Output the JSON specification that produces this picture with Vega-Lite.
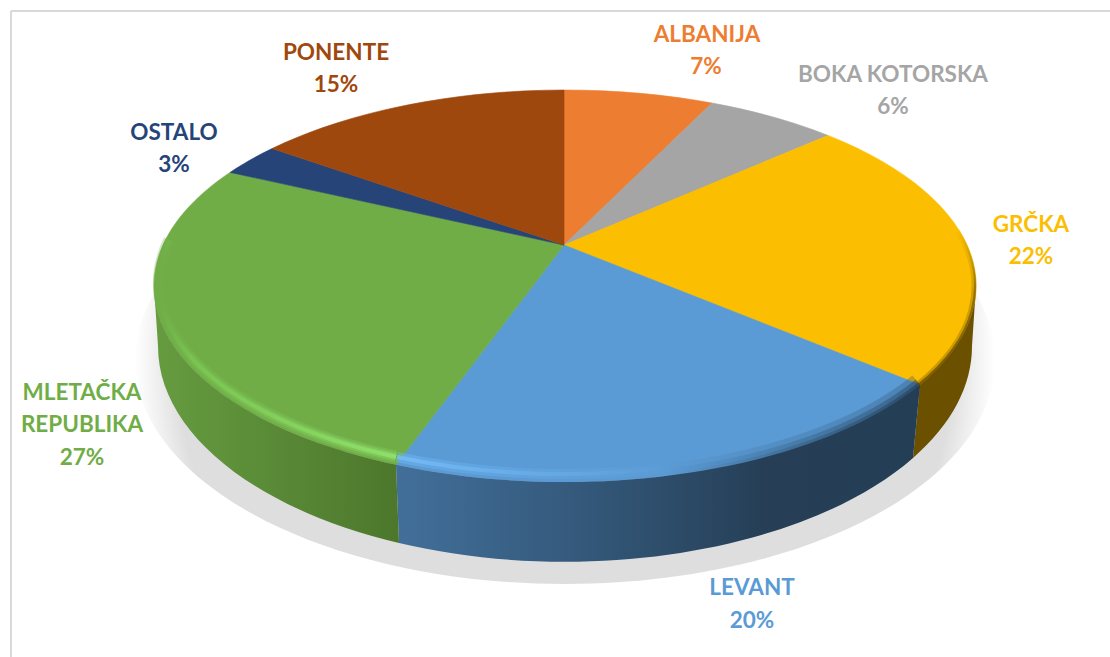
{"$schema":"https://vega.github.io/schema/vega-lite/v6.json","width":1099,"height":646,"autosize":"none","padding":{"left":11,"top":11,"right":0,"bottom":0},"background":"#ffffff","view":{"stroke":null},"data":{"values":[{"name":"ALBANIJA","pct":0.07},{"name":"BOKA KOTORSKA","pct":0.06},{"name":"GRČKA","pct":0.22},{"name":"LEVANT","pct":0.20},{"name":"MLETAČKA REPUBLIKA","pct":0.27},{"name":"OSTALO","pct":0.03},{"name":"PONENTE","pct":0.15}]},"encoding":{"x":{"value":553},"y":{"value":234},"size":{"value":4}},"layer":[
{"transform":[{"filter":"datum.name=='ALBANIJA'"}],"mark":{"type":"rule","color":"#d9d9d9"},"encoding":{"x":{"value":0},"x2":{"value":1099},"y":{"value":0},"size":{"value":2}}},
{"transform":[{"filter":"datum.name=='ALBANIJA'"}],"mark":{"type":"rule","color":"#d9d9d9"},"encoding":{"x":{"value":0},"y":{"value":0},"y2":{"value":646},"size":{"value":2}}},
{"transform":[{"filter":"datum.name=='LEVANT'"}],"mark":{"type":"point","filled":true,"opacity":1,"fill":{"gradient":"radial","x1":0.5,"y1":0.5,"r1":0,"x2":0.5,"y2":0.5,"r2":0.5,"stops":[{"offset":0,"color":"#dedede"},{"offset":0.9,"color":"#dedede"},{"offset":0.95,"color":"#efefef"},{"offset":1,"color":"#ffffff"}]}},"encoding":{"shape":{"value":"M-429,115 A430,224 0 0 1 431,115 A430,224 0 0 1 -429,115 Z"}}},
{"mark":{"type":"point","filled":true,"opacity":1,"strokeWidth":0.6},"encoding":{"shape":{"field":"name","type":"nominal","legend":null,"scale":{"domain":["ALBANIJA","BOKA KOTORSKA","GRČKA","LEVANT","MLETAČKA REPUBLIKA","OSTALO","PONENTE"],"range":["M0,0 L0,-155 A411,196 0 0 1 148,-142 Z","M0,0 L148,-142 A411,196 0 0 1 264,-109.6 Z","M0,0 L264,-109.6 A411,196 0 0 1 356,139.8 Z","M0,0 L356,139.8 A411,196 0 0 1 -168,219.7 Z","M0,0 L-168,219.7 A411,196 0 0 1 -334,-72.6 Z","M0,0 L-334,-72.6 A411,196 0 0 1 -292,-96.4 Z","M0,0 L-292,-96.4 A411,196 0 0 1 0,-155 Z"]}},"color":{"field":"name","type":"nominal","legend":null,"scale":{"domain":["ALBANIJA","BOKA KOTORSKA","GRČKA","LEVANT","MLETAČKA REPUBLIKA","OSTALO","PONENTE"],"range":["#ED7D31","#A5A5A5","#FBBE00","#5B9BD5","#70AD47","#264478","#9E480E"]}},"stroke":{"field":"name","type":"nominal","legend":null,"scale":{"domain":["ALBANIJA","BOKA KOTORSKA","GRČKA","LEVANT","MLETAČKA REPUBLIKA","OSTALO","PONENTE"],"range":["#ED7D31","#A5A5A5","#FBBE00","#5B9BD5","#70AD47","#264478","#9E480E"]}}}},
{"transform":[{"filter":"datum.name=='MLETAČKA REPUBLIKA'"}],"mark":{"type":"point","filled":false,"opacity":0.3,"strokeWidth":12,"stroke":{"gradient":"linear","x1":0,"y1":0,"x2":1,"y2":0,"stops":[{"offset":0,"color":"#70AD47"},{"offset":0.15,"color":"#78c050"},{"offset":1,"color":"#8ad866"}]}},"encoding":{"shape":{"value":"M-394.6,-5 A406,191 0 0 0 -168,211.7"}}},
{"transform":[{"filter":"datum.name=='MLETAČKA REPUBLIKA'"}],"mark":{"type":"point","filled":false,"opacity":0.5,"strokeWidth":8,"stroke":{"gradient":"linear","x1":0,"y1":0,"x2":1,"y2":0,"stops":[{"offset":0,"color":"#70AD47"},{"offset":0.15,"color":"#78c050"},{"offset":1,"color":"#8ad866"}]}},"encoding":{"shape":{"value":"M-394.6,-5 A406,191 0 0 0 -168,211.7"}}},
{"transform":[{"filter":"datum.name=='MLETAČKA REPUBLIKA'"}],"mark":{"type":"point","filled":false,"opacity":1,"strokeWidth":4,"stroke":{"gradient":"linear","x1":0,"y1":0,"x2":1,"y2":0,"stops":[{"offset":0,"color":"#70AD47"},{"offset":0.15,"color":"#7bc453"},{"offset":1,"color":"#8ee06a"}]}},"encoding":{"shape":{"value":"M-394.6,-5 A406,191 0 0 0 -168,211.7"}}},
{"transform":[{"filter":"datum.name=='LEVANT'"}],"mark":{"type":"point","filled":false,"opacity":0.4,"strokeWidth":10,"stroke":{"gradient":"linear","x1":0,"y1":0,"x2":1,"y2":0,"stops":[{"offset":0,"color":"#74bcf8"},{"offset":1,"color":"#5b9bd5"}]}},"encoding":{"shape":{"value":"M-167,212 A406,191 0 0 0 120,220.6"}}},
{"transform":[{"filter":"datum.name=='LEVANT'"}],"mark":{"type":"point","filled":false,"opacity":0.9,"strokeWidth":4,"stroke":{"gradient":"linear","x1":0,"y1":0,"x2":1,"y2":0,"stops":[{"offset":0,"color":"#74bcf8"},{"offset":1,"color":"#5b9bd5"}]}},"encoding":{"shape":{"value":"M-167,212 A406,191 0 0 0 120,220.6"}}},
{"transform":[{"filter":"datum.name=='LEVANT'"}],"mark":{"type":"point","filled":false,"opacity":0.3,"strokeWidth":24,"stroke":{"gradient":"linear","x1":0,"y1":0,"x2":1,"y2":0,"stops":[{"offset":0,"color":"#5b9bd5"},{"offset":0.5,"color":"#3f6d96"},{"offset":1,"color":"#2a4a66"}]}},"encoding":{"shape":{"value":"M100,231.2 A411,196 0 0 0 356,139.8"}}},
{"transform":[{"filter":"datum.name=='LEVANT'"}],"mark":{"type":"point","filled":false,"opacity":0.5,"strokeWidth":14,"stroke":{"gradient":"linear","x1":0,"y1":0,"x2":1,"y2":0,"stops":[{"offset":0,"color":"#5b9bd5"},{"offset":0.5,"color":"#3f6d96"},{"offset":1,"color":"#2a4a66"}]}},"encoding":{"shape":{"value":"M100,231.2 A411,196 0 0 0 356,139.8"}}},
{"transform":[{"filter":"datum.name=='LEVANT'"}],"mark":{"type":"point","filled":false,"opacity":0.9,"strokeWidth":6,"stroke":{"gradient":"linear","x1":0,"y1":0,"x2":1,"y2":0,"stops":[{"offset":0,"color":"#5b9bd5"},{"offset":0.5,"color":"#3f6d96"},{"offset":1,"color":"#2a4a66"}]}},"encoding":{"shape":{"value":"M100,231.2 A411,196 0 0 0 356,139.8"}}},
{"transform":[{"filter":"datum.name=='GRČKA'"}],"mark":{"type":"point","filled":false,"opacity":0.35,"strokeWidth":5,"stroke":{"gradient":"linear","x1":0,"y1":0,"x2":0,"y2":1,"stops":[{"offset":0,"color":"#FBBE00"},{"offset":0.4,"color":"#8a6a00"},{"offset":1,"color":"#6b5000"}]}},"encoding":{"shape":{"value":"M353,139.8 A409,194 0 0 0 393,-14.4"}}},
{"transform":[{"filter":"datum.name=='GRČKA'"}],"mark":{"type":"point","filled":false,"opacity":0.85,"strokeWidth":2,"stroke":{"gradient":"linear","x1":0,"y1":0,"x2":0,"y2":1,"stops":[{"offset":0,"color":"#FBBE00"},{"offset":0.4,"color":"#8a6a00"},{"offset":1,"color":"#6b5000"}]}},"encoding":{"shape":{"value":"M354,140 A410,195 0 0 0 394,-14.6"}}},
{"transform":[{"filter":"datum.name=='GRČKA'"}],"mark":{"type":"point","filled":true,"opacity":1,"fill":"#6b5000"},"encoding":{"shape":{"value":"M412,41 A411,196 0 0 1 356,139.8 L349,213 A407,215.5 0 0 0 408,101 Z"}}},
{"transform":[{"filter":"datum.name=='LEVANT'"}],"mark":{"type":"point","filled":true,"opacity":1,"fill":{"gradient":"linear","x1":0,"y1":0,"x2":1,"y2":0,"stops":[{"offset":0,"color":"#426f9a"},{"offset":0.35,"color":"#34597b"},{"offset":0.7,"color":"#263f57"},{"offset":1,"color":"#243e55"}]}},"encoding":{"shape":{"value":"M356,139.8 A411,196 0 0 1 -168,219.7 L-165,298 A407,215.5 0 0 0 349,213 Z"}}},
{"transform":[{"filter":"datum.name=='MLETAČKA REPUBLIKA'"}],"mark":{"type":"point","filled":true,"opacity":1,"fill":{"gradient":"linear","x1":0,"y1":0,"x2":1,"y2":0,"stops":[{"offset":0,"color":"#669c40"},{"offset":1,"color":"#4c772c"}]}},"encoding":{"shape":{"value":"M-168,219.7 A411,196 0 0 1 -410,41 L-406,101 A407,215.5 0 0 0 -165,298 Z"}}},
{"transform":[{"filter":"datum.name=='ALBANIJA'"}],"mark":{"type":"text","font":"Lato","fontWeight":"bold","baseline":"middle","align":"center"},"encoding":{"size":{"value":22.5},"x":{"value":696},"y":{"value":24},"text":{"field":"name"},"color":{"field":"name","type":"nominal","legend":null}}},
{"transform":[{"filter":"datum.name=='ALBANIJA'"}],"mark":{"type":"text","font":"Lato","fontWeight":"bold","baseline":"middle","align":"center"},"encoding":{"size":{"value":22.5},"x":{"value":695},"y":{"value":56},"text":{"field":"pct","format":".0%"},"color":{"field":"name","type":"nominal","legend":null}}},
{"transform":[{"filter":"datum.name=='BOKA KOTORSKA'"}],"mark":{"type":"text","font":"Lato","fontWeight":"bold","baseline":"middle","align":"center"},"encoding":{"size":{"value":22.5},"x":{"value":882},"y":{"value":64},"text":{"field":"name"},"color":{"field":"name","type":"nominal","legend":null}}},
{"transform":[{"filter":"datum.name=='BOKA KOTORSKA'"}],"mark":{"type":"text","font":"Lato","fontWeight":"bold","baseline":"middle","align":"center"},"encoding":{"size":{"value":22.5},"x":{"value":882},"y":{"value":96},"text":{"field":"pct","format":".0%"},"color":{"field":"name","type":"nominal","legend":null}}},
{"transform":[{"filter":"datum.name=='GRČKA'"}],"mark":{"type":"text","font":"Lato","fontWeight":"bold","baseline":"middle","align":"center"},"encoding":{"size":{"value":22.5},"x":{"value":1020},"y":{"value":214},"text":{"field":"name"},"color":{"field":"name","type":"nominal","legend":null}}},
{"transform":[{"filter":"datum.name=='GRČKA'"}],"mark":{"type":"text","font":"Lato","fontWeight":"bold","baseline":"middle","align":"center"},"encoding":{"size":{"value":22.5},"x":{"value":1020},"y":{"value":246},"text":{"field":"pct","format":".0%"},"color":{"field":"name","type":"nominal","legend":null}}},
{"transform":[{"filter":"datum.name=='LEVANT'"}],"mark":{"type":"text","font":"Lato","fontWeight":"bold","baseline":"middle","align":"center"},"encoding":{"size":{"value":22.5},"x":{"value":741},"y":{"value":577},"text":{"field":"name"},"color":{"field":"name","type":"nominal","legend":null}}},
{"transform":[{"filter":"datum.name=='LEVANT'"}],"mark":{"type":"text","font":"Lato","fontWeight":"bold","baseline":"middle","align":"center"},"encoding":{"size":{"value":22.5},"x":{"value":741},"y":{"value":610},"text":{"field":"pct","format":".0%"},"color":{"field":"name","type":"nominal","legend":null}}},
{"transform":[{"filter":"datum.name=='MLETAČKA REPUBLIKA'"}],"mark":{"type":"text","font":"Lato","fontWeight":"bold","baseline":"middle","align":"center","lineBreak":" ","lineHeight":32},"encoding":{"size":{"value":22.5},"x":{"value":71},"y":{"value":382},"text":{"field":"name"},"color":{"field":"name","type":"nominal","legend":null}}},
{"transform":[{"filter":"datum.name=='MLETAČKA REPUBLIKA'"}],"mark":{"type":"text","font":"Lato","fontWeight":"bold","baseline":"middle","align":"center"},"encoding":{"size":{"value":22.5},"x":{"value":71},"y":{"value":447},"text":{"field":"pct","format":".0%"},"color":{"field":"name","type":"nominal","legend":null}}},
{"transform":[{"filter":"datum.name=='OSTALO'"}],"mark":{"type":"text","font":"Lato","fontWeight":"bold","baseline":"middle","align":"center"},"encoding":{"size":{"value":22.5},"x":{"value":163},"y":{"value":122},"text":{"field":"name"},"color":{"field":"name","type":"nominal","legend":null}}},
{"transform":[{"filter":"datum.name=='OSTALO'"}],"mark":{"type":"text","font":"Lato","fontWeight":"bold","baseline":"middle","align":"center"},"encoding":{"size":{"value":22.5},"x":{"value":163},"y":{"value":154},"text":{"field":"pct","format":".0%"},"color":{"field":"name","type":"nominal","legend":null}}},
{"transform":[{"filter":"datum.name=='PONENTE'"}],"mark":{"type":"text","font":"Lato","fontWeight":"bold","baseline":"middle","align":"center"},"encoding":{"size":{"value":22.5},"x":{"value":325},"y":{"value":42},"text":{"field":"name"},"color":{"field":"name","type":"nominal","legend":null}}},
{"transform":[{"filter":"datum.name=='PONENTE'"}],"mark":{"type":"text","font":"Lato","fontWeight":"bold","baseline":"middle","align":"center"},"encoding":{"size":{"value":22.5},"x":{"value":325},"y":{"value":74},"text":{"field":"pct","format":".0%"},"color":{"field":"name","type":"nominal","legend":null}}}
]}
